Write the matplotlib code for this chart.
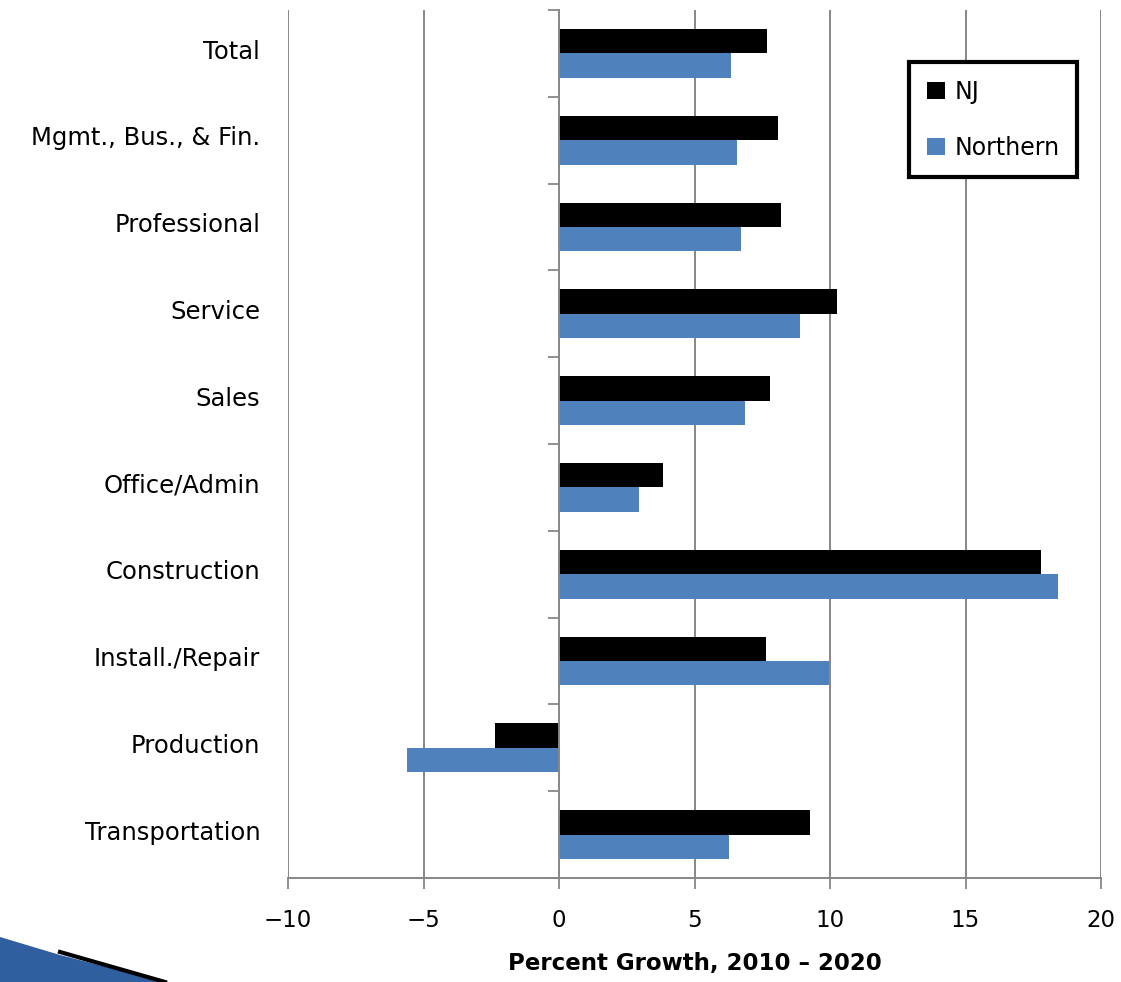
import numpy as np
import matplotlib.pyplot as plt
from matplotlib.patches import Polygon

# Datos
categories = ["Total", "Mgmt., Bus., & Fin.", "Professional", "Service", "Sales",
              "Office/Admin", "Construction", "Install./Repair", "Production",
              "Transportation"]
nj = [7.67, 8.08, 8.19, 10.26, 7.79, 3.84, 17.79, 7.64, -2.36, 9.26]
northern = [6.35, 6.57, 6.72, 8.89, 6.86, 2.95, 18.41, 9.96, -5.61, 6.27]
xticks = [-10, -5, 0, 5, 10, 15, 20]

blue = "#4F81BD"
gray = "#878787"

fig = plt.figure(figsize=(11.21, 9.82), dpi=100)
ax = fig.add_axes([288/1121, 1-878/982, (1101-288)/1121, (878-10)/982])

n = len(categories)
y = np.arange(n)
h = 0.28
ax.barh(y - h/2, nj, height=h, color="black", label="NJ", zorder=3)
ax.barh(y + h/2, northern, height=h, color=blue, label="Northern", zorder=3)

ax.set_xlim(-10, 20)
ax.set_ylim(n - 0.5, -0.5)
ax.set_xticks(xticks)
ax.set_xticklabels([str(t).replace("-", "\u2212") for t in xticks], fontsize=16.5)
ax.set_yticks(y - 0.05)
ax.set_yticklabels(categories, fontsize=17.5)
ax.tick_params(axis="y", length=0, pad=20)
ax.tick_params(axis="x", length=8, width=1.3, color=gray, pad=14)
for t in xticks:
    if t != 0:
        ax.axvline(t, color=gray, lw=1.4, zorder=1)

for s in ["top", "right", "left"]:
    ax.spines[s].set_visible(False)
ax.spines["bottom"].set_color(gray)
ax.spines["bottom"].set_linewidth(1.4)

# Eje vertical en x=0 con marcas en los límites de las categorías
ax2 = ax.twinx()
ax2.set_ylim(n - 0.5, -0.5)
for s in ["top", "right", "bottom"]:
    ax2.spines[s].set_visible(False)
ax2.spines["left"].set_position(("data", 0))
ax2.spines["left"].set_color(gray)
ax2.spines["left"].set_linewidth(1.4)
ax2.spines["left"].set_zorder(4)
ax2.yaxis.tick_left()
ax2.set_yticks(np.arange(n + 1) - 0.5)
ax2.set_yticklabels([])
ax2.tick_params(axis="y", length=8, width=1.3, color=gray)

ax.set_xlabel("Percent Growth, 2010 \u2013 2020", fontsize=16.5, fontweight="bold", labelpad=15)

leg = ax2.legend(*ax.get_legend_handles_labels(), loc="upper right",
                 fontsize=17, frameon=True, fancybox=False, framealpha=1,
                 handlelength=0.75, handleheight=0.75, labelspacing=1.35,
                 borderpad=0.75, handletextpad=0.4, borderaxespad=0)
leg.set_bbox_to_anchor((1077/1121, 1-62/982), transform=fig.transFigure)
leg.get_frame().set_edgecolor("black")
leg.get_frame().set_linewidth(3)

# Decoración en la esquina inferior izquierda
deco = Polygon([(0, 1-937/982), (60/1121, 1-955/982), (165/1121, 0), (0, 0)],
               closed=True, transform=fig.transFigure, facecolor="#2f5f9e",
               edgecolor="none")
fig.patches.append(deco)
fig.add_artist(plt.Line2D([60/1121, 165/1121], [1-952/982, 0],
                          transform=fig.transFigure, color="black", lw=3))

fig.savefig("out.png", dpi=100)
